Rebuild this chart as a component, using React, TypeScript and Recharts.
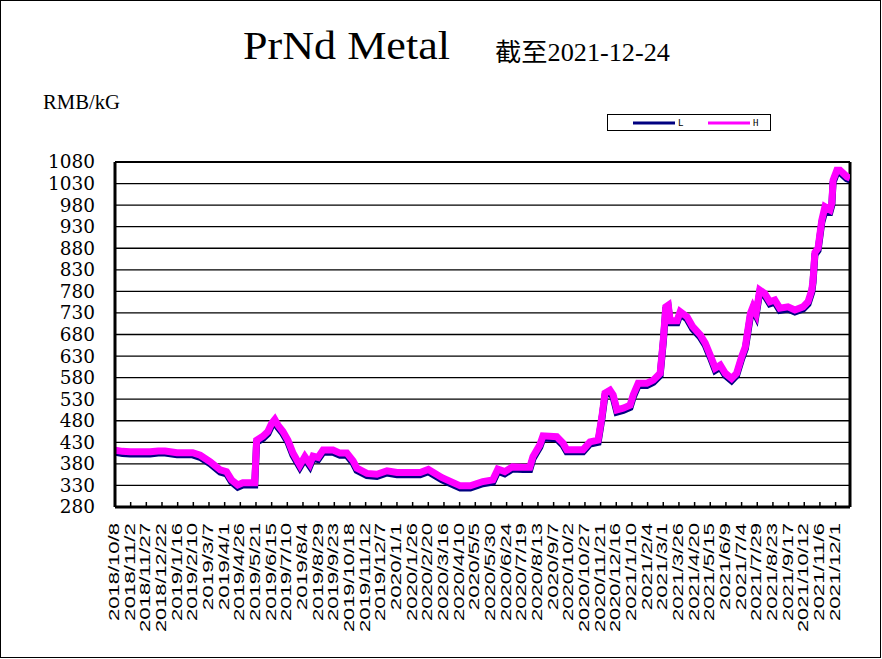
import React from "react";
import {
  CartesianGrid,
  Line,
  LineChart,
  ReferenceLine,
  XAxis,
  YAxis,
} from "recharts";

const dates = [
  "2018-10-08", "2018-10-20", "2018-11-01", "2018-12-03", "2018-12-16", "2018-12-27", "2019-01-15", "2019-02-09", "2019-02-21", "2019-03-09",
  "2019-03-25", "2019-04-04", "2019-04-12", "2019-04-22", "2019-04-30", "2019-05-19", "2019-05-22", "2019-06-01", "2019-06-09", "2019-06-15",
  "2019-06-20", "2019-06-25", "2019-07-03", "2019-07-11", "2019-07-19", "2019-07-30", "2019-08-07", "2019-08-15", "2019-08-20", "2019-08-28",
  "2019-09-05", "2019-09-21", "2019-10-02", "2019-10-13", "2019-10-23", "2019-10-29", "2019-11-14", "2019-11-30", "2019-12-16", "2020-01-01",
  "2020-02-07", "2020-02-20", "2020-03-13", "2020-04-11", "2020-04-27", "2020-05-17", "2020-06-02", "2020-06-10", "2020-06-21", "2020-07-03",
  "2020-07-20", "2020-07-31", "2020-08-05", "2020-08-16", "2020-08-21", "2020-09-12", "2020-09-22", "2020-09-28", "2020-10-24", "2020-11-04",
  "2020-11-17", "2020-11-23", "2020-11-28", "2020-12-06", "2020-12-11", "2020-12-17", "2020-12-27", "2021-01-07", "2021-01-12", "2021-01-20",
  "2021-02-03", "2021-02-13", "2021-02-24", "2021-03-01", "2021-03-05", "2021-03-09", "2021-03-12", "2021-03-23", "2021-03-28", "2021-04-08",
  "2021-04-17", "2021-04-29", "2021-05-07", "2021-05-15", "2021-05-23", "2021-05-31", "2021-06-08", "2021-06-18", "2021-06-26", "2021-07-04",
  "2021-07-10", "2021-07-18", "2021-07-22", "2021-07-27", "2021-08-02", "2021-08-10", "2021-08-18", "2021-08-26", "2021-09-03", "2021-09-16",
  "2021-09-27", "2021-10-10", "2021-10-18", "2021-10-24", "2021-10-26", "2021-10-29", "2021-11-03", "2021-11-09", "2021-11-14", "2021-11-22",
  "2021-11-25", "2021-11-27", "2021-12-03", "2021-12-08", "2021-12-19", "2021-12-24",
];

// low quote (navy)
const lowPrice = [
  407, 404, 403, 403, 405, 405, 401, 401, 395, 380,
  361, 357, 338, 326, 331, 331, 430, 439, 450, 469,
  478, 465, 450, 430, 400, 372, 392, 375, 393, 390,
  407, 407, 400, 400, 382, 365, 353, 351, 359, 355,
  355, 362, 343, 324, 324, 334, 338, 363, 357, 368,
  367, 367, 392, 419, 440, 438, 423, 408, 408, 426,
  430, 484, 539, 546, 535, 500, 504, 511, 535, 562,
  562, 569, 585, 662, 739, 743, 707, 707, 728, 716,
  693, 674, 655, 627, 597, 604, 585, 573, 585, 623,
  647, 722, 739, 724, 778, 770, 751, 755, 736, 739,
  732, 739, 751, 778, 801, 865, 875, 940, 966, 964,
  980, 1033, 1056, 1056, 1041, 1038,
];

// high quote (magenta)
const highPrice = [
  412, 409, 408, 408, 410, 410, 406, 406, 400, 385,
  366, 362, 343, 331, 336, 336, 435, 444, 455, 474,
  483, 470, 455, 435, 405, 377, 397, 380, 398, 395,
  412, 412, 405, 405, 387, 370, 358, 356, 364, 360,
  360, 367, 348, 329, 329, 339, 343, 368, 362, 373,
  372, 372, 397, 424, 445, 443, 428, 413, 413, 431,
  435, 489, 544, 551, 540, 505, 509, 516, 540, 567,
  567, 574, 590, 667, 744, 748, 712, 712, 733, 721,
  698, 679, 660, 632, 602, 609, 590, 578, 590, 628,
  652, 729, 744, 729, 783, 775, 756, 760, 741, 744,
  737, 744, 756, 783, 806, 870, 880, 945, 976, 969,
  985, 1038, 1061, 1061, 1046, 1043,
];

const tickLabels = [
  "2018/10/8", "2018/11/2", "2018/11/27", "2018/12/22", "2019/1/16", "2019/2/10", "2019/3/7", "2019/4/1",
  "2019/4/26", "2019/5/21", "2019/6/15", "2019/7/10", "2019/8/4", "2019/8/29", "2019/9/23", "2019/10/18",
  "2019/11/12", "2019/12/7", "2020/1/1", "2020/1/26", "2020/2/20", "2020/3/16", "2020/4/10", "2020/5/5",
  "2020/5/30", "2020/6/24", "2020/7/19", "2020/8/13", "2020/9/7", "2020/10/2", "2020/10/27", "2020/11/21",
  "2020/12/16", "2021/1/10", "2021/2/4", "2021/3/1", "2021/3/26", "2021/4/20", "2021/5/15", "2021/6/9",
  "2021/7/4", "2021/7/29", "2021/8/23", "2021/9/17", "2021/10/12", "2021/11/6", "2021/12/1",
];

const yTicks = [280, 330, 380, 430, 480, 530, 580, 630, 680, 730, 780, 830, 880, 930, 980, 1030, 1080];

const toUTC = (s: string) => {
  const [y, m, d] = s.split(/[-/]/).map(Number);
  return Date.UTC(y, m - 1, d);
};
const origin = toUTC(dates[0]);
const dayOf = (s: string) => Math.round((toUTC(s) - origin) / 86400000);

const data = dates.map((d, i) => ({ t: dayOf(d), L: lowPrice[i], H: highPrice[i] }));
const lastDay = dayOf(dates[dates.length - 1]);
const tickDays = tickLabels.map(dayOf);
const labelByDay = new Map(tickLabels.map((l) => [dayOf(l), l]));

const PLOT_TOP = 162;
const PLOT_BOTTOM = 507;

function XTick({ x, payload }: any) {
  const label = labelByDay.get(payload.value) ?? "";
  return (
    <g>
      <line x1={x} x2={x} y1={PLOT_BOTTOM} y2={PLOT_BOTTOM - 5} stroke="#000" strokeWidth={1.5} />
      <text
        transform={`translate(${x + 4},${PLOT_BOTTOM + 16}) rotate(-90)`}
        textAnchor="end"
        fontFamily="Liberation Sans, Arial, sans-serif"
        fontSize={14}
        textLength={label.length * 10.9}
        lengthAdjust="spacingAndGlyphs"
        fill="#000"
      >
        {label}
      </text>
    </g>
  );
}

function YTick({ y, payload }: any) {
  const s = String(payload.value);
  return (
    <text
      x={95}
      y={y}
      dy="0.36em"
      textAnchor="end"
      fontFamily="DejaVu Serif, serif"
      fontSize={18}
      textLength={s.length * 11.75}
      lengthAdjust="spacingAndGlyphs"
      fill="#000"
    >
      {s}
    </text>
  );
}

function LegendBox() {
  return (
    <svg width={165} height={17} style={{ position: "absolute", left: 607, top: 114 }}>
      <rect x={0.5} y={0.5} width={163} height={16} fill="#fff" stroke="#000" />
      <line x1={26} x2={68} y1={9} y2={9} stroke="#000080" strokeWidth={3} />
      <text x={71} y={12} fontFamily="DejaVu Sans Mono, monospace" fontSize={9}>L</text>
      <line x1={101} x2={143} y1={9} y2={9} stroke="#ff00ff" strokeWidth={3} />
      <text x={146} y={12} fontFamily="DejaVu Sans Mono, monospace" fontSize={9}>H</text>
    </svg>
  );
}

export default function App() {
  return (
    <div style={{ position: "absolute", left: 0, top: 0, width: 882, height: 659, background: "#fff" }}>
      <div
        style={{
          position: "absolute",
          left: 0,
          top: 0,
          width: 881,
          height: 658,
          border: "1px solid #000",
          boxSizing: "border-box",
        }}
      />
      <svg width={882} height={659} style={{ position: "absolute", left: 0, top: 0 }}>
        <text x={243} y={59} fontFamily="Liberation Serif, serif" fontSize={41} textLength={207} lengthAdjust="spacingAndGlyphs">
          PrNd Metal
        </text>
        <text x={495} y={61} fontFamily="Liberation Serif, Noto Sans CJK SC, serif" fontSize={25} textLength={175} lengthAdjust="spacingAndGlyphs">
          截至2021-12-24
        </text>
        <text x={43} y={109} fontFamily="Liberation Serif, serif" fontSize={20} textLength={77} lengthAdjust="spacingAndGlyphs">
          RMB/kG
        </text>
      </svg>
      <div style={{ position: "absolute", left: 0, top: 0 }}>
        <LineChart
          width={882}
          height={659}
          data={data}
          margin={{ top: PLOT_TOP, right: 32, bottom: 0, left: 0 }}
        >
          <CartesianGrid horizontal vertical={false} stroke="#000" strokeWidth={1.3} />
          <XAxis
            dataKey="t"
            type="number"
            domain={[0, lastDay]}
            ticks={tickDays}
            interval={0}
            height={659 - PLOT_BOTTOM}
            axisLine={{ stroke: "#000", strokeWidth: 3 }}
            tickLine={false}
            tick={<XTick />}
            allowDataOverflow
          />
          <YAxis
            type="number"
            domain={[280, 1080]}
            ticks={yTicks}
            interval={0}
            width={115}
            axisLine={{ stroke: "#000", strokeWidth: 3 }}
            tickLine={false}
            tick={<YTick />}
            allowDataOverflow
          />
          <ReferenceLine x={lastDay} stroke="#000" strokeWidth={3} />
          <ReferenceLine y={1080} stroke="#000" strokeWidth={2} />
          <Line type="linear" dataKey="L" stroke="#000080" strokeWidth={7} dot={false} isAnimationActive={false} />
          <Line type="linear" dataKey="H" stroke="#ff00ff" strokeWidth={7} dot={false} isAnimationActive={false} />
        </LineChart>
      </div>
      <LegendBox />
    </div>
  );
}
